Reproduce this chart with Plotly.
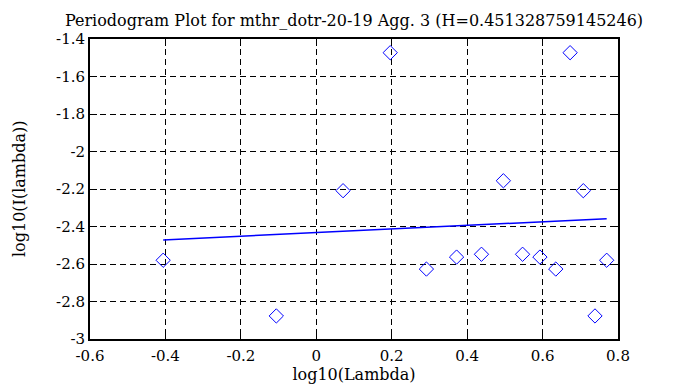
import plotly.graph_objects as go

# Periodogram points
log_lambda = [-0.406, -0.106, 0.071, 0.196, 0.292, 0.372, 0.438, 0.496,
              0.547, 0.593, 0.635, 0.673, 0.708, 0.739, 0.770]
log_I = [-2.580, -2.877, -2.209, -1.473, -2.627, -2.563, -2.548, -2.156,
         -2.548, -2.563, -2.627, -1.473, -2.209, -2.877, -2.580]

# Fitted line endpoints
fit_x = [-0.406, 0.770]
fit_y = [-2.472, -2.358]

x_ticks = [-0.6, -0.4, -0.2, 0, 0.2, 0.4, 0.6, 0.8]
x_tick_text = ["-0.6", "-0.4", "-0.2", "0", "0.2", "0.4", "0.6", "0.8"]
y_ticks = [-3, -2.8, -2.6, -2.4, -2.2, -2, -1.8, -1.6, -1.4]
y_tick_text = ["-3", "-2.8", "-2.6", "-2.4", "-2.2", "-2", "-1.8", "-1.6", "-1.4"]

FONT = "DejaVu Serif"

fig = go.Figure()
fig.add_trace(go.Scatter(
    x=log_lambda, y=log_I, mode="markers",
    marker=dict(symbol="diamond-open", size=11, color="#0000ff",
                line=dict(width=1, color="#0000ff")),
    showlegend=False, hoverinfo="x+y"))
fig.add_trace(go.Scatter(
    x=fit_x, y=fit_y, mode="lines",
    line=dict(color="#0000ff", width=1.5),
    showlegend=False))

axis_common = dict(
    showline=True, linecolor="black", linewidth=2, mirror="ticks",
    ticks="inside", ticklen=7, tickcolor="black", tickwidth=1,
    showgrid=True, gridcolor="black", gridwidth=1, griddash="6px,4px",
    zeroline=False, tickfont=dict(family=FONT, size=15, color="black"),
)

fig.update_layout(
    width=678, height=387,
    margin=dict(l=82, r=68, t=31, b=56),
    paper_bgcolor="white", plot_bgcolor="white",
    font=dict(family=FONT, color="black"),
    title=dict(text="Periodogram Plot for mthr_dotr-20-19 Agg. 3 (H=0.451328759145246)",
               x=0.5, xref="paper", xanchor="center",
               y=1 - 12 / 387, yref="container", yanchor="middle",
               font=dict(family=FONT, size=16, color="black")),
    xaxis=dict(range=[-0.6, 0.8], tickvals=x_ticks, ticktext=x_tick_text,
               ticklabelstandoff=2,
               title=dict(text="log10(Lambda)", font=dict(family=FONT, size=16), standoff=0),
               **axis_common),
    yaxis=dict(range=[-3, -1.4], tickvals=y_ticks, ticktext=y_tick_text, **axis_common),
    annotations=[dict(text="log10(I(lambda))", textangle=-90,
                      xref="paper", yref="paper", x=(11 - 82) / 528, y=0.5,
                      xanchor="center", yanchor="middle", showarrow=False,
                      font=dict(family=FONT, size=16, color="black"))],
)

fig.write_html("out.html")
